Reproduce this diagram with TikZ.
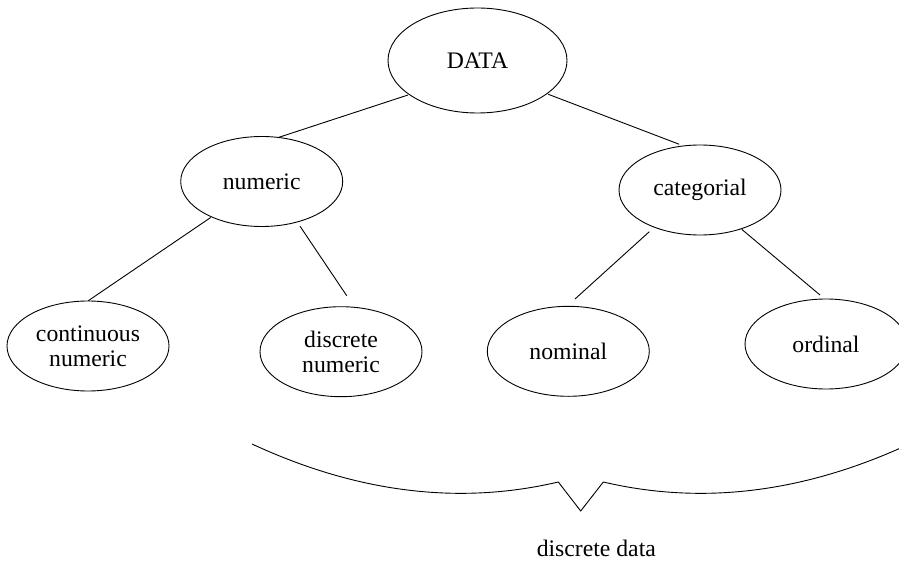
\documentclass[tikz,border=0pt]{standalone}
\usepackage{fontspec}
\setmainfont{Liberation Serif}
\usetikzlibrary{shapes.geometric,calc}
\begin{document}
\begin{tikzpicture}[x=1pt,y=-1pt,
  every node/.style={font=\fontsize{23.7}{25}\selectfont},
  class/.style={ellipse,draw,line width=0.9pt,inner sep=0pt,
    minimum width=162pt,minimum height=90pt,align=center},
  link/.style={line width=0.9pt}]
\useasboundingbox (0,0) rectangle (899,561);
\clip (0,0) rectangle (899,561);

% classification tree
\node[class,minimum width=179pt,minimum height=105pt] (data) at (477.5,60.5) {DATA};
\node[class] (numeric)    at (261.7,181.5) {numeric};
\node[class] (categorial) at (700,190)     {categorial};
\node[class] (continuous) at (88,346)      {continuous\\numeric};
\node[class] (discrete)   at (341,351.7)   {discrete\\numeric};
\node[class] (nominal)    at (568.3,351.3) {nominal};
\node[class] (ordinal)    at (826,344)     {ordinal};

% branches
\draw[link] ($(data)+(-69.5,34.5)$)       -- ($(numeric)+(16.6,-44)$);
\draw[link] ($(data)+(70.8,33.8)$)        -- ($(categorial)+(-20.7,-45.7)$);
\draw[link] ($(numeric)+(-51,36)$)        -- ($(continuous)+(0.3,-45.3)$);
\draw[link] ($(numeric)+(38.3,44.7)$)     -- ($(discrete)+(5.7,-56)$);
\draw[link] ($(categorial)+(-50.7,41.7)$) -- ($(nominal)+(6.7,-52.3)$);
\draw[link] ($(categorial)+(41.7,39.3)$)  -- ($(ordinal)+(-6,-49)$);

% brace grouping the discrete kinds
\draw[link] (252,444) .. controls (357,492.7) and (459,505.3) .. (558.3,482)
  -- (580.7,511) -- (603.3,482)
  .. controls (702.4,505.3) and (804.4,492.7) .. (909.4,444);
\node (bracelabel) at (596.3,548) {discrete data};
\end{tikzpicture}
\end{document}
